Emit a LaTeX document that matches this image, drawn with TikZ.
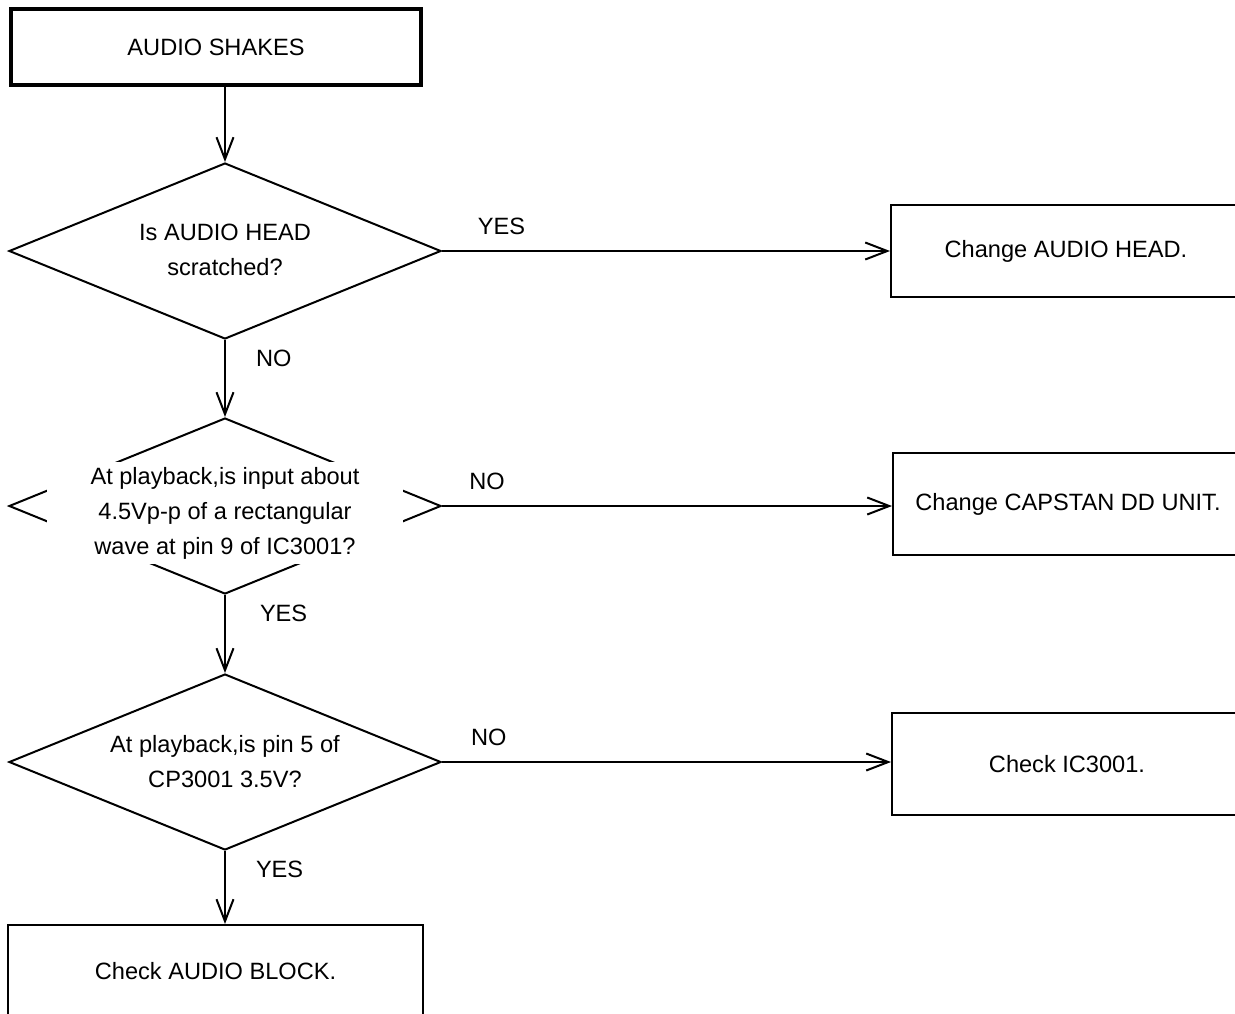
\documentclass[tikz,border=0pt]{standalone}
\usepackage{fontspec}
\setmainfont{Liberation Sans}
\usetikzlibrary{shapes.geometric, arrows.meta}

\tikzset{
  txt/.style={font=\fontsize{11.8}{17.5}\selectfont},
  startbox/.style={txt, draw, line width=2.2pt, minimum width=205pt, minimum height=38pt},
  actbox/.style={txt, draw, line width=1pt, minimum width=175pt},
  decision/.style={diamond, draw, line width=1pt, inner sep=0pt, minimum width=216pt, minimum height=88pt},
  qtext/.style={txt, align=center, fill=white, inner sep=0pt},
  lbl/.style={txt, inner sep=0pt},
}

\begin{document}
\begin{tikzpicture}[x=0.5pt, y=-0.5pt, line width=1pt,
    >={Straight Barb[length=11pt, width=8.5pt]}]
  \useasboundingbox (0,0) rectangle (1235,1013);
  \clip (0,0) rectangle (1235,1013);

  % --- main column ---
  \node[startbox] (start) at (216,47) {AUDIO SHAKES};

  \node[decision] (headq) at (225,251) {};
  \node[qtext] (headqt) at (225,250) {Is AUDIO HEAD\\scratched?};

  \node[decision] (pulseq) at (225,506) {};
  \node[qtext, minimum width=178pt, minimum height=51pt] (pulseqt) at (225,513)
     {At playback,is input about\\4.5Vp-p of a rectangular\\wave at pin 9 of IC3001?};

  \node[decision] (voltq) at (225,762) {};
  \node[qtext] (voltqt) at (225,762) {At playback,is pin 5 of\\CP3001 3.5V?};

  \node[actbox, minimum width=207.5pt, minimum height=46pt] (blockchk) at (215.5,971) {Check AUDIO BLOCK.};

  % --- right column ---
  \node[actbox, minimum height=46pt] (headfix) at (1066,251) {Change AUDIO HEAD.};
  \node[actbox, minimum height=51pt] (capstanfix) at (1068,504) {Change CAPSTAN DD UNIT.};
  \node[actbox, minimum height=51pt] (icfix) at (1067,764) {Check IC3001.};

  % --- connectors ---
  \draw[->] (headq.north |- start.south) -- (headq.north);
  \draw[->] (headq.east) -- node[lbl, above=7.5pt, pos=0.133] (yes1) {YES} (headfix.west |- headq.east);
  \draw[->] (headq.south) -- node[lbl, right=15pt, pos=0.24] (no1) {NO} (pulseq.north);
  \draw[->] (pulseq.east) -- node[lbl, above=7.5pt, pos=0.1] (no2) {NO} (capstanfix.west |- pulseq.east);
  \draw[->] (pulseq.south) -- node[lbl, right=17pt, pos=0.24] (yes2) {YES} (voltq.north);
  \draw[->] (voltq.east) -- node[lbl, above=7.5pt, pos=0.104] (no3) {NO} (icfix.west |- voltq.east);
  \draw[->] (voltq.south) -- node[lbl, right=15pt, pos=0.25] (yes3) {YES} (blockchk.north -| voltq.south);
\end{tikzpicture}
\end{document}
